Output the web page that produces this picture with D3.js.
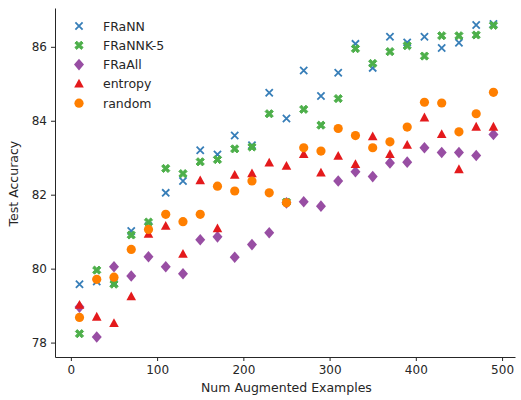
<!DOCTYPE html>
<html>
<head>
<meta charset="utf-8">
<script src="https://cdn.jsdelivr.net/npm/d3@7"></script>
<style>
  body { margin: 0; background: #fff; }
  svg text { font-family: "DejaVu Sans", sans-serif; fill: #262626; }
</style>
</head>
<body>
<div id="chart"></div>
<script>
const width = 521;
const height = 400;

// x values: number of augmented examples
const examples = [10, 30, 50, 70, 90, 110, 130, 150, 170, 190, 210, 230, 250,
  270, 290, 310, 330, 350, 370, 390, 410, 430, 450, 470, 490];

const frann = [79.58, 79.65, 79.62, 81.02, 81.15, 82.05, 82.37, 83.2, 83.09, 83.6, 83.34, 84.76, 84.06,
  85.36, 84.67, 85.3, 86.08, 85.43, 86.27, 86.12, 86.27, 85.97, 86.11, 86.59, 86.62];
const frannk5 = [78.24, 79.96, 79.58, 80.91, 81.26, 82.71, 82.57, 82.89, 82.95, 83.24, 83.29, 84.19, 81.8,
  84.31, 83.88, 84.6, 85.95, 85.55, 85.87, 86.03, 85.75, 86.3, 86.3, 86.32, 86.58];
const fraall = [78.96, 78.15, 80.05, 79.8, 80.32, 80.05, 79.86, 80.78, 80.86, 80.31, 80.65, 80.97, 81.78,
  81.81, 81.69, 82.37, 82.62, 82.49, 82.86, 82.88, 83.27, 83.14, 83.14, 83.06, 83.63];
const entropy = [79.01, 78.69, 78.52, 79.24, 80.93, 81.15, 80.39, 82.38, 81.08, 82.53, 82.57, 82.86, 82.77,
  83.09, 82.59, 83.04, 82.82, 83.57, 83.09, 83.34, 84.08, 83.63, 82.68, 83.83, 83.83];
const random = [78.68, 79.71, 79.77, 80.52, 81.06, 81.47, 81.27, 81.47, 82.23, 82.1, 82.37, 82.05, 81.78,
  83.27, 83.18, 83.79, 83.6, 83.27, 83.43, 83.83, 84.5, 84.48, 83.7, 84.19, 84.77];

const seriesNames = ["FRaNN", "FRaNNK-5", "FRaAll", "entropy", "random"];
const seriesValues = [frann, frannk5, fraall, entropy, random];
const colors = ["#377eb8", "#4daf4a", "#984ea3", "#e41a1c", "#ff7f00"];

const xTicks = [0, 100, 200, 300, 400, 500];
const yTicks = [78, 80, 82, 84, 86];

const margin = {top: 8, right: 6, bottom: 43, left: 55};

const svg = d3.select("#chart").append("svg")
  .attr("width", width)
  .attr("height", height);

const x = d3.scaleLinear()
  .domain([-18.4, 515])
  .range([margin.left, width - margin.right]);

const y = d3.scaleLinear()
  .domain([77.61, 87.05])
  .range([height - margin.bottom, margin.top]);

// axes (left + bottom spines only)
const xAxis = svg.append("g")
  .attr("transform", `translate(0,${height - margin.bottom})`)
  .call(d3.axisBottom(x).tickValues(xTicks).tickSize(4).tickPadding(4).tickSizeOuter(0));

const yAxis = svg.append("g")
  .attr("transform", `translate(${margin.left},0)`)
  .call(d3.axisLeft(y).tickValues(yTicks).tickSize(4).tickPadding(4).tickSizeOuter(0));

[xAxis, yAxis].forEach(ax => {
  ax.selectAll("text").style("font-size", "12px").attr("fill", "#262626");
  ax.selectAll("line").attr("stroke", "#262626");
  ax.select(".domain").attr("stroke", "#262626");
});

svg.append("text")
  .attr("x", x(250))
  .attr("y", height - 8)
  .attr("text-anchor", "middle")
  .style("font-size", "12.5px")
  .text("Num Augmented Examples");

svg.append("text")
  .attr("transform", `translate(18,${y(82.3)}) rotate(-90)`)
  .attr("text-anchor", "middle")
  .style("font-size", "12.5px")
  .text("Test Accuracy");

// marker shapes
function marker(g, i, color) {
  if (i === 0) {
    g.append("path")
      .attr("d", "M-3.6,-3.6L3.6,3.6M-3.6,3.6L3.6,-3.6")
      .attr("stroke", color)
      .attr("stroke-width", 1.8)
      .attr("fill", "none");
  } else if (i === 1) {
    // filled, chunky X
    const a = 1.9, b = 4.1;
    g.append("path")
      .attr("d", `M${-b + a},${-b}L0,${-a}L${b - a},${-b}L${b},${-b + a}L${a},0L${b},${b - a}L${b - a},${b}L0,${a}L${-b + a},${b}L${-b},${b - a}L${-a},0L${-b},${-b + a}Z`)
      .attr("fill", color)
      .attr("stroke", color)
      .attr("stroke-width", 1)
      .attr("stroke-linejoin", "round");
  } else if (i === 2) {
    g.append("path")
      .attr("d", "M0,-5.8L5,0L0,5.8L-5,0Z")
      .attr("fill", color);
  } else if (i === 3) {
    g.append("path")
      .attr("d", "M0,-5.2L4.8,3.6L-4.8,3.6Z")
      .attr("fill", color);
  } else {
    g.append("circle")
      .attr("r", 4.6)
      .attr("fill", color);
  }
}

seriesValues.forEach((vals, i) => {
  const grp = svg.append("g");
  vals.forEach((v, j) => {
    const g = grp.append("g")
      .attr("transform", `translate(${x(examples[j])},${y(v)})`);
    marker(g, i, colors[i]);
  });
});

// legend
const legend = svg.append("g").attr("transform", "translate(79,26)");
seriesNames.forEach((name, i) => {
  const row = legend.append("g").attr("transform", `translate(0,${i * 19.3})`);
  marker(row, i, colors[i]);
  row.append("text")
    .attr("x", 24)
    .attr("y", 4.5)
    .style("font-size", "12.5px")
    .text(name);
});
</script>
</body>
</html>
